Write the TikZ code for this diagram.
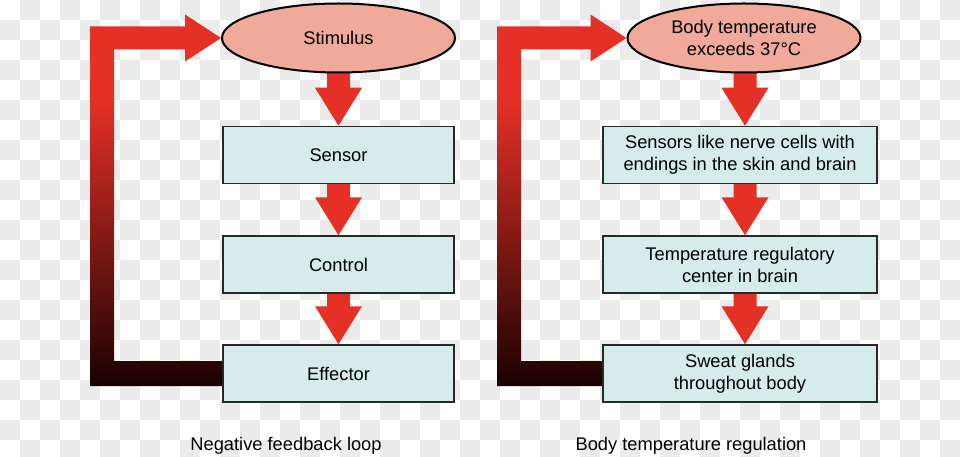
\documentclass[tikz,border=0pt]{standalone}
\usepackage{fontspec}
\setmainfont{Liberation Sans}
\usetikzlibrary{shapes.geometric,calc,backgrounds}
\definecolor{arrowred}{RGB}{229,48,38}
\definecolor{loopdark}{RGB}{22,0,0}
\definecolor{ellfill}{RGB}{241,170,153}
\definecolor{boxfill}{RGB}{214,236,234}
\definecolor{boxline}{RGB}{40,40,40}
\definecolor{chk}{RGB}{235,235,235}
\newcommand\diagfont{\fontsize{18.3}{22}\selectfont}
\tikzset{
  stimell/.style={ellipse, draw=black, line width=2pt, fill=ellfill, minimum width=233pt, minimum height=69pt, inner sep=0pt, align=center, font=\diagfont},
  stepbox/.style={rectangle, draw=boxline, line width=1.5pt, fill=boxfill, minimum height=57pt, inner sep=0pt, align=center, font=\diagfont},
  captext/.style={font=\diagfont, inner sep=0pt},
  fatarrow/.style={fill=arrowred}
}
% down arrow from #1 to #2, x taken from #3
\newcommand\downarr[3]{%
  \coordinate (aa) at (#3 |- #1.south);
  \coordinate (bb) at (#3 |- #2.north);
  \fill[fatarrow] ($(aa)+(-11.5,-3)$) -- ($(bb)+(-11.5,-38)$) -- ($(bb)+(-23.5,-38)$) -- (bb)
     -- ($(bb)+(23.5,-38)$) -- ($(bb)+(11.5,-38)$) -- ($(aa)+(11.5,-3)$) -- cycle;
}
% feedback loop from #1 (effector) back to #2 (stimulus); outer x #3, inner x #4
\newcommand\feedloop[4]{%
  \coordinate (eb) at ($(#1.west)+(3,12.5)$);
  \coordinate (et) at ($(#1.west)+(3,-12.5)$);
  \coordinate (st) at ($(#2.west)+(0,-11.5)$);
  \coordinate (sb) at ($(#2.west)+(0,11.5)$);
  \coordinate (ht) at ($(#2.west)+(-36,-23.5)$);
  \coordinate (hb) at ($(#2.west)+(-36,23.5)$);
  \coordinate (lo) at (#3,0);
  \coordinate (li) at (#4,0);
  \begin{scope}
    \clip (eb) -- (lo |- eb) -- (lo |- st) -- (ht |- st) -- (ht) -- (#2.west) -- (hb)
      -- (hb |- sb) -- (li |- sb) -- (li |- et) -- (et) -- cycle;
    \fill[arrowred] ({#3-5},0) rectangle ({#3+200},100);
    \shade[top color=arrowred, bottom color=loopdark] ({#3-5},100) rectangle ({#3+200},392);
  \end{scope}
}
\begin{document}
\begin{tikzpicture}[x=1pt,y=-1pt]
\useasboundingbox (0,0) rectangle (960,457);
\begin{scope}[on background layer]
  \clip (0,0) rectangle (960,457);
  \fill[white] (0,0) rectangle (960,457);
  \foreach \j in {0,...,22}{
    \pgfmathsetmacro\off{20*mod(\j+1,2)}
    \foreach \i in {0,...,23}{
      \fill[chk] ({40*\i+\off},{20*\j}) rectangle ++(20,20);
    }
  }
\end{scope}

% left diagram
\node[stimell] (s1) at (338.5,38) {Stimulus};
\node[stepbox, minimum width=231pt] (sen1) at (338.5,155) {Sensor};
\node[stepbox, minimum width=231pt] (con1) at (338.5,264.5) {Control};
\node[stepbox, minimum width=231pt] (eff1) at (338.5,373.5) {Effector};
\node[captext] (cap1) at (286,446) {Negative feedback loop};

% right diagram
\node[stimell] (s2) at (744,38) {Body temperature\\exceeds 37°C};
\node[stepbox, minimum width=274pt] (sen2) at (740,155) {Sensors like nerve cells with\\endings in the skin and brain};
\node[stepbox, minimum width=274pt] (con2) at (740,264.5) {Temperature regulatory\\center in brain};
\node[stepbox, minimum width=274pt] (eff2) at (740,373.5) {Sweat glands\\throughout body};
\node[captext] (cap2) at (691,446) {Body temperature regulation};
\coordinate (ax2) at (745,0);

\begin{scope}[on background layer]
  \downarr{s1}{sen1}{s1}
  \downarr{sen1}{con1}{s1}
  \downarr{con1}{eff1}{s1}
  \downarr{s2}{sen2}{ax2}
  \downarr{sen2}{con2}{ax2}
  \downarr{con2}{eff2}{ax2}
  \feedloop{eff1}{s1}{90}{114}
  \feedloop{eff2}{s2}{497}{521}
\end{scope}
\end{tikzpicture}
\end{document}
